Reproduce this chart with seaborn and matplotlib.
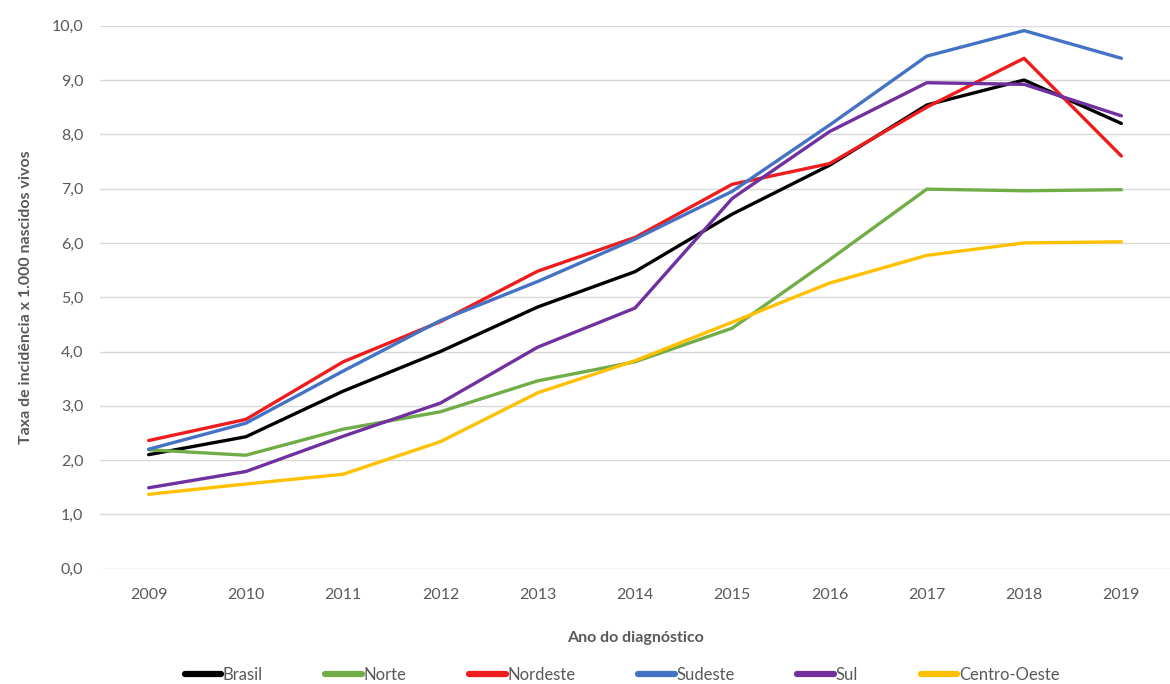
import matplotlib
matplotlib.use("Agg")
import matplotlib.pyplot as plt
import seaborn as sns
import pandas as pd
from matplotlib.ticker import FuncFormatter, MultipleLocator

years = [2009, 2010, 2011, 2012, 2013, 2014, 2015, 2016, 2017, 2018, 2019]
brasil = [2.10, 2.43, 3.27, 4.00, 4.82, 5.47, 6.53, 7.43, 8.54, 9.00, 8.20]
norte = [2.19, 2.09, 2.57, 2.89, 3.46, 3.81, 4.43, 5.69, 6.99, 6.96, 6.98]
nordeste = [2.36, 2.75, 3.81, 4.55, 5.48, 6.10, 7.08, 7.46, 8.50, 9.40, 7.60]
sudeste = [2.20, 2.68, 3.64, 4.57, 5.29, 6.07, 6.95, 8.17, 9.44, 9.91, 9.40]
sul = [1.49, 1.79, 2.44, 3.05, 4.08, 4.80, 6.82, 8.05, 8.95, 8.92, 8.34]
centro_oeste = [1.37, 1.56, 1.74, 2.34, 3.24, 3.83, 4.54, 5.26, 5.77, 6.00, 6.02]

regions = ["Brasil", "Norte", "Nordeste", "Sudeste", "Sul", "Centro-Oeste"]
series = [brasil, norte, nordeste, sudeste, sul, centro_oeste]
colors = ["#000000", "#70AD47", "#EE1C1C", "#4472C4", "#7030A0", "#FFC000"]

df = pd.DataFrame(
    [(y, r, v) for r, vals in zip(regions, series) for y, v in zip(years, vals)],
    columns=["Ano", "Região", "Taxa"],
)

sns.set_style("white")
plt.rcParams["font.family"] = ["Lato", "DejaVu Sans"]

text_color = "#595959"
fig = plt.figure(figsize=(11.7, 6.84), dpi=100)
ax = fig.add_axes([100 / 1170, 1 - 568.7 / 684, 1070 / 1170, (568.7 - 25.7) / 684])

sns.lineplot(
    data=df, x="Ano", y="Taxa", hue="Região", hue_order=regions,
    palette=dict(zip(regions, colors)), linewidth=2.4, ax=ax, legend=False,
)

ax.set_xlim(2008.5, 2019.5)
ax.set_ylim(0, 10)
ax.yaxis.set_major_locator(MultipleLocator(1))
ax.yaxis.set_major_formatter(FuncFormatter(lambda v, _: f"{v:.1f}".replace(".", ",")))
ax.set_xticks(years)
ax.set_xticklabels([str(y) for y in years])
ax.grid(axis="y", color="#D9D9D9", linewidth=1.0)
ax.grid(axis="x", visible=False)
ax.set_axisbelow(True)
for s in ax.spines.values():
    s.set_visible(False)
ax.tick_params(axis="both", length=0, labelsize=11.5, labelcolor=text_color)
ax.tick_params(axis="x", pad=14)
ax.tick_params(axis="y", pad=12)

ax.set_xlabel("Ano do diagnóstico", fontsize=11.5, fontweight="bold", color=text_color, labelpad=21)
ax.set_ylabel("Taxa de incidência x 1.000 nascidos vivos", fontsize=11.5, fontweight="bold",
              color=text_color, labelpad=14)
ax.yaxis.set_label_coords(-0.063, 0.5)

handles = [plt.Line2D([], [], color=c, linewidth=4.5, solid_capstyle="round") for c in colors]
leg = fig.legend(
    handles, regions, loc="center", bbox_to_anchor=(622 / 1170, 1 - 675 / 684), ncol=6,
    frameon=False, fontsize=12, handlelength=2.2, handletextpad=0.1, columnspacing=3.75,
)
for t in leg.get_texts():
    t.set_color(text_color)

fig.savefig("out.png", dpi=100, facecolor="white")
